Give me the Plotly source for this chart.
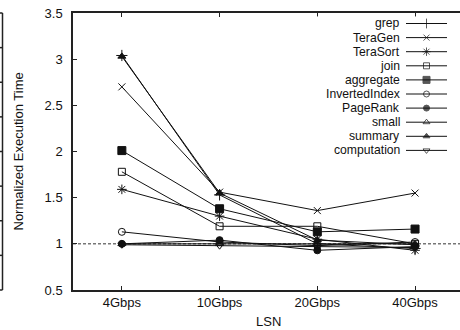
import plotly.graph_objects as go

categories = ["4Gbps", "10Gbps", "20Gbps", "40Gbps"]
series_names = ["grep", "TeraGen", "TeraSort", "join", "aggregate",
                "InvertedIndex", "PageRank", "small", "summary", "computation"]
grep = [3.04, 1.53, 1.00, 0.95]
teragen = [2.70, 1.56, 1.36, 1.55]
terasort = [1.59, 1.30, 1.05, 0.93]
join = [1.78, 1.19, 1.19, 1.00]
aggregate = [2.01, 1.38, 1.13, 1.16]
invertedindex = [1.13, 1.02, 0.98, 1.02]
pagerank = [1.00, 1.04, 0.93, 0.97]
small = [1.00, 1.00, 1.00, 1.00]
summary = [3.03, 1.55, 1.04, 0.99]
computation = [0.99, 0.98, 0.97, 0.96]
series_values = [grep, teragen, terasort, join, aggregate,
                 invertedindex, pagerank, small, summary, computation]
symbols = ["cross-thin-open", "x-thin-open", "asterisk-open", "square-open", "square",
           "circle-open", "circle", "triangle-up-open", "triangle-up", "triangle-down-open"]
sizes = [8, 7, 8, 7, 8, 7, 7, 7, 7, 7]
y_ticks = [0.5, 1, 1.5, 2, 2.5, 3, 3.5]

FONT = "Liberation Sans, Arial, sans-serif"
FS = 13
LFS = 12.2
INK = "#111111"

fig = go.Figure()
for name, vals, sym, sz in zip(series_names, series_values, symbols, sizes):
    fig.add_trace(go.Scatter(
        x=categories, y=vals, mode="lines+markers", name=name, showlegend=False,
        line=dict(color=INK, width=1),
        marker=dict(symbol=sym, size=sz, color=INK, line=dict(color=INK, width=1)),
        cliponaxis=False,
    ))

# manual legend (text right-aligned, sample to the right) on auxiliary axes
n = len(series_names)
for i, (name, sym, sz) in enumerate(zip(series_names, symbols, sizes)):
    fig.add_trace(go.Scatter(
        x=[0, 0.5, 1], y=[i, i, i], mode="lines+markers", showlegend=False,
        xaxis="x2", yaxis="y2", cliponaxis=False,
        line=dict(color=INK, width=1),
        marker=dict(symbol=sym, size=[0, sz - 1, 0], color=INK, line=dict(color=INK, width=1)),
    ))

W, H = 460, 330
L, T, B = 73, 13, 40
PW = W - L
PH = H - T - B

def px_x(p):
    return (p - L) / PW

def px_y(p):
    return (H - B - p) / PH

# legend sample spans pixels 406..447; axis extended left to hold the labels
LEG_L, LEG_S0, LEG_S1 = 290, 406, 447
leg_unit = LEG_S1 - LEG_S0
ROW = 14.1
ROW0 = 23.5 - ROW / 2
legend_ann = [dict(text=name, xref="x2", yref="y2", x=-5 / leg_unit, y=i, showarrow=False,
                   xanchor="right", yanchor="middle", borderpad=0,
                   font=dict(family=FONT, size=LFS, color=INK))
              for i, name in enumerate(series_names)]

shapes = [dict(type="line", xref="paper", yref="y", x0=0, x1=1, y0=1, y1=1,
               line=dict(color="#333333", width=1, dash="3px,2px"), layer="below")]
# right edge of the neighbouring (cropped) panel
xe = px_x(2.5)
x0e = px_x(-1)
shapes.append(dict(type="line", xref="paper", yref="paper", x0=xe, x1=xe, y0=0, y1=1,
                   line=dict(color="#222222", width=1.5)))
for k in range(0, 9):
    yk = k / 8
    shapes.append(dict(type="line", xref="paper", yref="paper", x0=x0e, x1=xe, y0=yk, y1=yk,
                       line=dict(color="#222222", width=1.5)))

fig.update_layout(
    width=W, height=H,
    margin=dict(l=L, r=0, t=T, b=B),
    paper_bgcolor="white", plot_bgcolor="white",
    font=dict(family=FONT, size=FS, color=INK),
    xaxis=dict(type="category", range=[-0.5, 3.46], showgrid=False, zeroline=False,
               showline=True, linecolor="#222222", linewidth=1.5, mirror="ticks",
               ticks="inside", ticklen=4, tickcolor="#222222", tickwidth=1,
               tickfont=dict(family=FONT, size=FS, color=INK)),
    yaxis=dict(range=[0.5, 3.5], tickvals=y_ticks, ticktext=[f"{v:g}" for v in y_ticks],
               showgrid=False, zeroline=False, showline=True, linecolor="#222222",
               linewidth=1.5, mirror=False, ticks="inside", ticklen=4,
               tickcolor="#222222", tickwidth=1, ticklabelstandoff=6,
               tickfont=dict(family=FONT, size=FS, color=INK)),
    xaxis2=dict(domain=[px_x(LEG_L), px_x(LEG_S1)],
                range=[-(LEG_S0 - LEG_L) / leg_unit, 1], anchor="y2", visible=False),
    yaxis2=dict(domain=[px_y(ROW0 + ROW * n), px_y(ROW0)], range=[n - 0.5, -0.5],
                anchor="x2", visible=False),
    shapes=shapes,
    annotations=legend_ann + [
        dict(text="Normalized Execution Time", xref="paper", yref="paper",
             x=px_x(18), y=0.5, textangle=-90, showarrow=False,
             xanchor="center", yanchor="middle", font=dict(family=FONT, size=FS, color=INK)),
        dict(text="LSN", xref="x", yref="paper", x=1.5, y=px_y(321), showarrow=False,
             xanchor="center", yanchor="middle", font=dict(family=FONT, size=FS, color=INK)),
    ],
)

fig.write_html("out.html", config={"displayModeBar": False},
               post_script="document.body.style.margin='0';document.body.style.overflow='hidden';")
